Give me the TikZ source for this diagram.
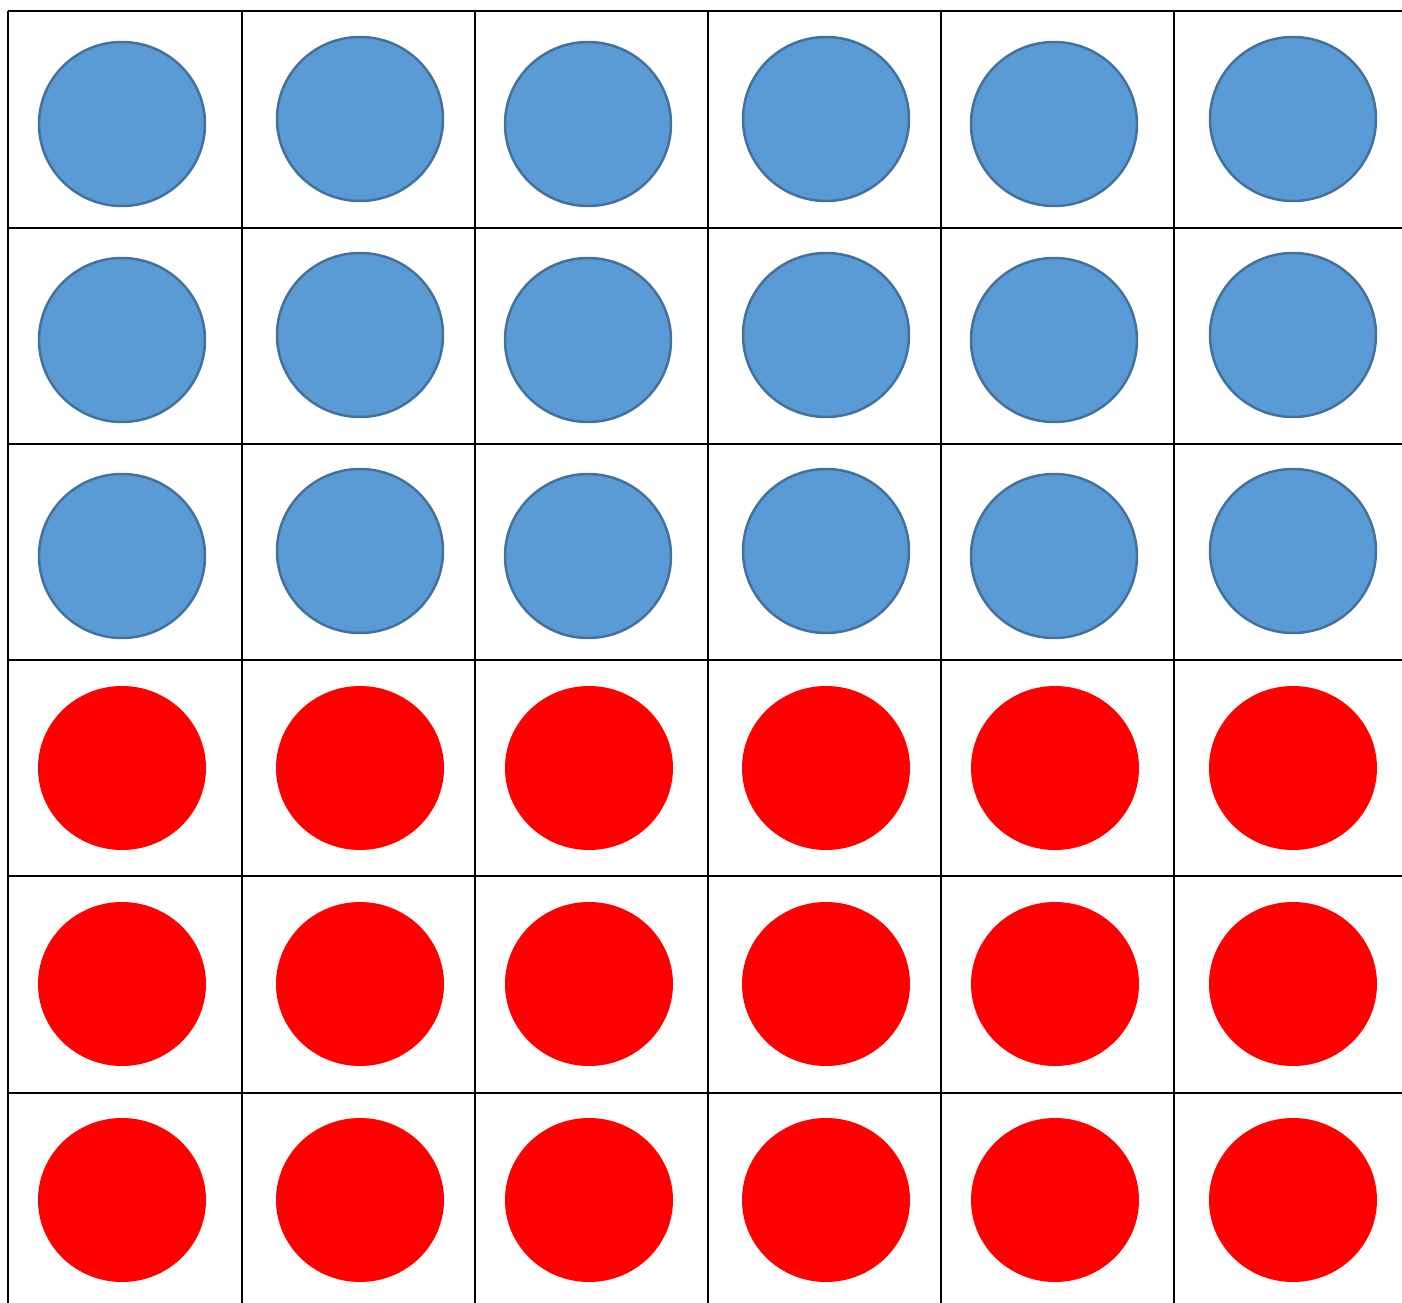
\documentclass[tikz,border=0pt]{standalone}
\usepackage{tikz}

\definecolor{discblue}{HTML}{5B9BD5}
\definecolor{discedge}{HTML}{41719C}
\definecolor{discred}{HTML}{FF0000}

\tikzset{
  gridline/.style={black,line width=0.6pt},
  bluedisc/.style={fill=discblue,draw=discedge,line width=0.7pt},
  reddisc/.style={fill=discred}
}

\begin{document}
\begin{tikzpicture}[x=0.01cm,y=-0.01cm]
  % page 1402 x 1303 (1 unit = 1 px)
  \useasboundingbox[fill=white] (0,0) rectangle (1402,1303);
  % Grid: column pitch ~233, row pitch ~216, right and bottom edges run off the page
  \foreach \xc in {8,242,475,708,941,1174} {
    \draw[gridline] (\xc,11) -- (\xc,1303);
  }
  \foreach \yc in {11,228,444,660,876,1093} {
    \draw[gridline] (8,\yc) -- (1402,\yc);
  }
  % Blue discs, rows 1-3 (even columns sit 5 px higher)
  \foreach \yr in {0,216,432} {
    \foreach \xc/\yc in {122/124, 360/119, 588/124, 826/119, 1054/124, 1293/119} {
      \draw[bluedisc] (\xc,\yc+\yr) ellipse [x radius=83, y radius=82];
    }
  }
  % Red discs, rows 4-6
  \foreach \yc in {768,984,1200} {
    \foreach \xc in {122,360,589,826,1055,1293} {
      \fill[reddisc] (\xc,\yc) ellipse [x radius=84, y radius=82];
    }
  }
\end{tikzpicture}
\end{document}
